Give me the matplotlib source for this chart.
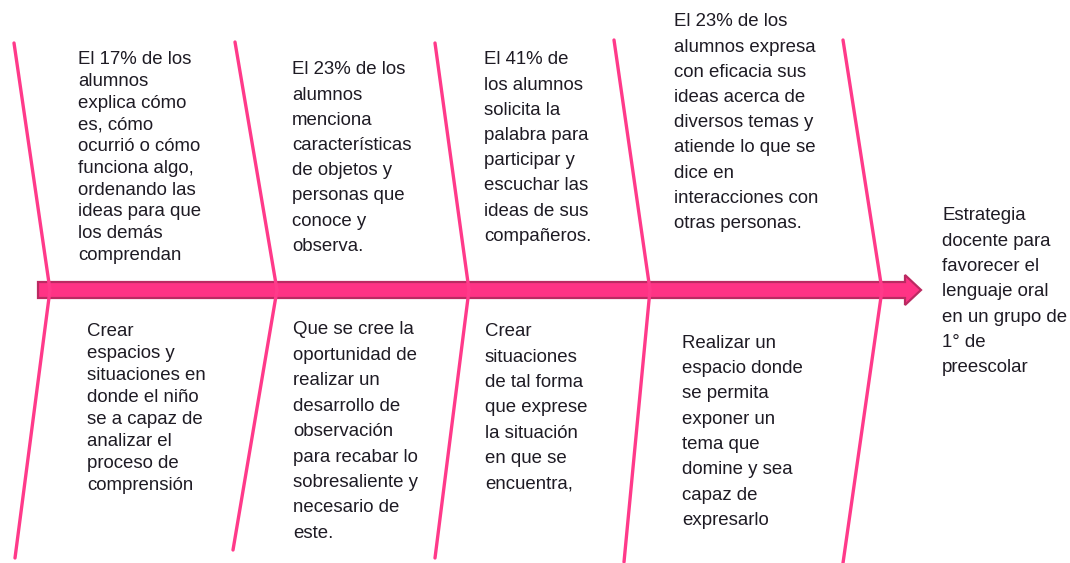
import matplotlib.pyplot as plt
from matplotlib.patches import Polygon

# texts above the spine (effects / results)
top_texts = [
    ["El 17% de los", "alumnos", "explica cómo", "es, cómo", "ocurrió o cómo",
     "funciona algo,", "ordenando las", "ideas para que", "los demás", "comprendan"],
    ["El 23% de los", "alumnos", "menciona", "características", "de objetos y",
     "personas que", "conoce y", "observa."],
    ["El 41% de", "los alumnos", "solicita la", "palabra para", "participar y",
     "escuchar las", "ideas de sus", "compañeros."],
    ["El 23% de los", "alumnos expresa", "con eficacia sus", "ideas acerca de",
     "diversos temas y", "atiende lo que se", "dice en", "interacciones con",
     "otras personas."],
]

# texts below the spine (strategies)
bottom_texts = [
    ["Crear", "espacios y", "situaciones en", "donde el niño", "se a capaz de",
     "analizar el", "proceso de", "comprensión"],
    ["Que se cree la", "oportunidad de", "realizar un", "desarrollo de",
     "observación", "para recabar lo", "sobresaliente y", "necesario de", "este."],
    ["Crear", "situaciones", "de tal forma", "que exprese", "la situación",
     "en que se", "encuentra,"],
    ["Realizar un", "espacio donde", "se permita", "exponer un", "tema que",
     "domine y sea", "capaz de", "expresarlo"],
]

head_text = ["Estrategia", "docente para", "favorecer el", "lenguaje oral",
             "en un grupo de", "1° de", "preescolar"]

# layout (pixel coords, y grows downward)
top_bones = [((14, 43), (50, 290)), ((235, 42), (277, 290)), ((435, 43), (469, 290)),
             ((614, 40), (650, 290)), ((843, 40), (882, 290))]
bottom_bones = [((50, 290), (15, 558)), ((277, 290), (233, 550)), ((469, 290), (435, 558)),
                ((650, 290), (624, 562)), ((882, 290), (843, 563))]
top_pos = [(78, 60, 21.7), (292, 70, 25.2), (484, 60, 25.2), (674, 22, 25.2)]
bottom_pos = [(87, 332, 21.9), (293, 330, 25.4), (485, 332, 25.3), (682, 343, 25.4)]
head_pos = (942, 216, 25.3)

pink = '#ff3a8a'
text_color = '#1e1b24'
font = 'Liberation Sans'

fig = plt.figure(figsize=(10.7, 5.63), dpi=100)
fig.patch.set_facecolor('white')
ax = fig.add_axes([0, 0, 1, 1])
ax.set_xlim(0, 1070)
ax.set_ylim(563, 0)
ax.axis('off')

# spine arrow
spine = Polygon([(38, 282), (905, 282), (905, 275), (921, 290), (905, 305),
                 (905, 298), (38, 298)], closed=True,
                facecolor='#ff3385', edgecolor='#bb2a62', linewidth=1.6, zorder=2)
ax.add_patch(spine)

for (x0, y0), (x1, y1) in top_bones + bottom_bones:
    ax.plot([x0, x1], [y0, y1], color=pink, linewidth=2.4, solid_capstyle='round', zorder=3)


def draw_block(lines, x, y, step):
    for i, s in enumerate(lines):
        ax.text(x, y + i * step, s, fontsize=13.4, family=font, color=text_color,
                ha='left', va='center', zorder=4)


for lines, (x, y, step) in zip(top_texts, top_pos):
    draw_block(lines, x, y, step)
for lines, (x, y, step) in zip(bottom_texts, bottom_pos):
    draw_block(lines, x, y, step)
draw_block(head_text, *head_pos)

fig.savefig('out.png', dpi=100, facecolor='white')
